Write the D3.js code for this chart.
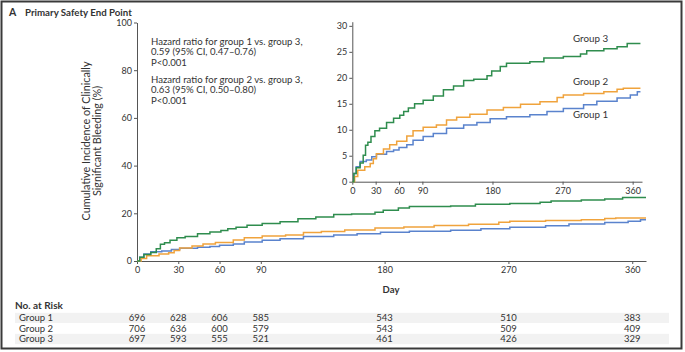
<!DOCTYPE html>
<html>
<head>
<meta charset="utf-8">
<script src="https://cdn.jsdelivr.net/npm/d3@7.9.0/dist/d3.min.js"></script>
<style>
  body { margin: 0; background: #fff; }
  svg text { font-family: Lato, "Open Sans", sans-serif; fill: #333; }
</style>
</head>
<body>
<svg id="chart" width="685" height="352"></svg>
<script>
// step curve points: [day, cumulative incidence %]
const group1 = [[0,0],[2,1.6],[5,2.9],[10,3.9],[18,4.2],[25,4.8],[31,5.3],[44,5.8],[53,6.1],[60,6.6],[70,7.1],[78,8.0],[91,8.7],[104,9.3],[121,10.3],[143,10.9],[160,11.4],[177,12.1],[198,12.5],[228,12.9],[250,13.5],[271,14.1],[297,14.8],[314,15.5],[340,16.1],[357,16.7],[366,17.3],[370,17.3]];
const group2 = [[0,0],[3,1.0],[7,2.2],[16,2.9],[23,3.5],[27,4.4],[31,5.4],[40,6.3],[48,7.1],[57,7.8],[70,8.8],[78,9.8],[91,10.5],[108,10.9],[121,11.9],[134,12.4],[151,13.0],[173,13.8],[194,14.3],[216,14.9],[241,15.4],[263,16.2],[271,16.7],[297,17.0],[323,17.3],[340,17.8],[348,18.0],[370,18.0]];
const group3 = [[0,0],[2,1.6],[5,2.7],[10,3.6],[14,5.1],[17,7.0],[20,7.6],[24,8.7],[29,9.8],[35,10.3],[44,11.4],[53,12.2],[61,12.8],[66,13.5],[72,14.2],[80,15.0],[91,15.7],[104,16.5],[117,17.7],[130,18.4],[143,19.5],[156,19.7],[173,20.4],[179,21.3],[190,22.2],[198,22.8],[228,23.1],[246,23.8],[271,24.1],[293,24.6],[301,25.2],[323,25.6],[340,26.0],[353,26.6],[370,26.6]];

const groupNames = ["Group 1", "Group 2", "Group 3"];
const groupColors = ["#5a83cd", "#f0a33c", "#2f8d4e"];
const riskDays = [0, 30, 60, 90, 180, 270, 360];
const atRisk1 = [696, 628, 606, 585, 543, 510, 383];
const atRisk2 = [706, 636, 600, 579, 543, 509, 409];
const atRisk3 = [697, 593, 555, 521, 461, 426, 329];

const xTicks = [0, 30, 60, 90, 180, 270, 360];
const mainYTicks = [0, 20, 40, 60, 80, 100];
const insetYTicks = [0, 5, 10, 15, 20, 25, 30];

const hrLines1 = ["Hazard ratio for group 1 vs. group 3,", "0.59 (95% CI, 0.47\u20130.76)", "P<0.001"];
const hrLines2 = ["Hazard ratio for group 2 vs. group 3,", "0.63 (95% CI, 0.50\u20130.80)", "P<0.001"];

const series = [group1, group2, group3];
const svg = d3.select("#chart");

// frame
svg.append("rect")
    .attr("x", 1.5).attr("y", 1.5)
    .attr("width", 680).attr("height", 347)
    .attr("fill", "none").attr("stroke", "#3a3a3a").attr("stroke-width", 2);

// title
svg.append("text").attr("x", 9).attr("y", 15.5)
    .style("font-size", "10.5px").style("font-weight", "bold").attr("fill", "#222")
    .text("A");
svg.append("text").attr("x", 25).attr("y", 15.5)
    .style("font-size", "9.7px").style("font-weight", "bold").attr("fill", "#222")
    .text("Primary Safety End Point");

// === main plot ===
const x = d3.scaleLinear().domain([0, 370]).range([137, 646]);
const y = d3.scaleLinear().domain([0, 100]).range([261, 22.5]);

function styleAxis(g) {
    g.select(".domain").attr("stroke", "#555");
    g.selectAll(".tick line").attr("stroke", "#555");
    g.selectAll(".tick text").attr("fill", "#444").style("font-size", "9px")
        .style("font-family", "Lato, 'Open Sans', sans-serif");
}

svg.append("g")
    .attr("transform", `translate(0,${y(0)})`)
    .call(d3.axisBottom(x).tickValues(xTicks).tickSize(3).tickSizeOuter(0).tickPadding(3))
    .call(styleAxis);

svg.append("g")
    .attr("transform", `translate(${x(0)},0)`)
    .call(d3.axisLeft(y).tickValues(mainYTicks).tickSize(3).tickSizeOuter(0).tickPadding(2))
    .call(styleAxis);

const mainLine = d3.line().x(d => x(d[0])).y(d => y(d[1])).curve(d3.curveStepAfter);
svg.append("g").selectAll("path")
    .data(series)
    .join("path")
    .attr("d", mainLine)
    .attr("fill", "none")
    .attr("stroke", (d, i) => groupColors[i])
    .attr("stroke-width", 1.5);

// y label
const yLab = svg.append("text")
    .attr("transform", "translate(86,141) rotate(-90)")
    .attr("text-anchor", "middle")
    .style("font-size", "10.8px");
yLab.append("tspan").attr("x", 0).attr("dy", "0.35em").text("Cumulative Incidence of Clinically");
yLab.append("tspan").attr("x", 0).attr("dy", "1em").text("Significant Bleeding (%)");

svg.append("text").attr("x", 391).attr("y", 293)
    .attr("text-anchor", "middle")
    .style("font-size", "9.5px").style("font-weight", "bold").attr("fill", "#222")
    .text("Day");

// hazard ratio notes
[[hrLines1, 45], [hrLines2, 83]].forEach(([lines, y0]) => {
    svg.append("g").selectAll("text")
        .data(lines)
        .join("text")
        .attr("x", 151)
        .attr("y", (d, i) => y0 + i * 10.3)
        .style("font-size", "9.6px")
        .text(d => d);
});

// === inset ===
const xi = d3.scaleLinear().domain([0, 372]).range([352.3, 642]);
const yi = d3.scaleLinear().domain([0, 30.8]).range([181.7, 21.7]);

svg.append("g")
    .attr("transform", `translate(0,${yi(0)})`)
    .call(d3.axisBottom(xi).tickValues(xTicks).tickSize(3).tickSizeOuter(0).tickPadding(3))
    .call(styleAxis);

svg.append("g")
    .attr("transform", `translate(${xi(0)},0)`)
    .call(d3.axisLeft(yi).tickValues(insetYTicks).tickSize(3).tickSizeOuter(0).tickPadding(2))
    .call(styleAxis);

const insetLine = d3.line().x(d => xi(d[0])).y(d => yi(d[1])).curve(d3.curveStepAfter);
svg.append("g").selectAll("path")
    .data(series)
    .join("path")
    .attr("d", insetLine)
    .attr("fill", "none")
    .attr("stroke", (d, i) => groupColors[i])
    .attr("stroke-width", 1.5);

// inset group labels
const labelPos = [[573, 118], [573, 85], [573, 41.5]];
svg.append("g").selectAll("text")
    .data(groupNames)
    .join("text")
    .attr("x", (d, i) => labelPos[i][0])
    .attr("y", (d, i) => labelPos[i][1])
    .style("font-size", "9.8px")
    .attr("fill", "#444")
    .text(d => d);

// === number at risk table ===
svg.append("text").attr("x", 15).attr("y", 309)
    .style("font-size", "10px").style("font-weight", "bold").attr("fill", "#222")
    .text("No. at Risk");

const riskRows = [atRisk1, atRisk2, atRisk3];
const rowY = [318, 328.5, 339];

const rows = svg.append("g").selectAll("g")
    .data(riskRows)
    .join("g")
    .attr("transform", (d, i) => `translate(0,${rowY[i]})`);

rows.append("rect")
    .attr("x", 15).attr("y", -5.2)
    .attr("width", 654).attr("height", 10.4)
    .attr("fill", (d, i) => i === 1 ? "#fff" : "#f2f2f2");

rows.append("text")
    .attr("x", 19).attr("dy", "0.35em")
    .style("font-size", "9.5px")
    .text((d, i) => groupNames[i]);

rows.selectAll(".val")
    .data(d => d.map((v, j) => ({ day: riskDays[j], v })))
    .join("text")
    .attr("class", "val")
    .attr("x", d => x(d.day))
    .attr("dy", "0.35em")
    .attr("text-anchor", "middle")
    .style("font-size", "9.5px")
    .text(d => d.v);
</script>
</body>
</html>
